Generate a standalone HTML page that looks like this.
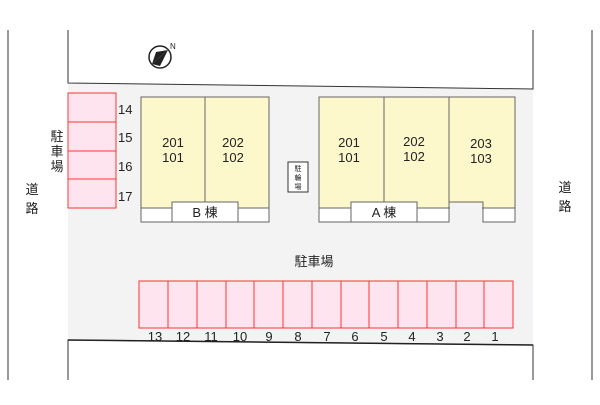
<!DOCTYPE html>
<html><head><meta charset="utf-8"><style>
body{margin:0;background:#fff}
text{font-family:"Liberation Sans","Noto Sans CJK JP",sans-serif;fill:#222}
</style></head><body>
<svg width="600" height="400" viewBox="0 0 600 400" xmlns="http://www.w3.org/2000/svg">
<rect width="600" height="400" fill="#fff"/>
<line x1="8" y1="30" x2="8" y2="380" stroke="#333" stroke-width="1"/>
<line x1="592" y1="30" x2="592" y2="380" stroke="#333" stroke-width="1"/>
<polygon points="68,83 533,89 533,345 68,340" fill="#f3f3f3"/>
<polyline points="68,30 68,83 533,89 533,30" fill="none" stroke="#333"/>
<polyline points="68,380 68,340 533,345 533,380" fill="none" stroke="#333"/>
<line x1="68" y1="340" x2="533" y2="345" stroke="#222" stroke-width="1.5"/>
<!-- compass -->
<circle cx="160" cy="57" r="11" fill="#fff" stroke="#222" stroke-width="1.5"/>
<polygon points="152,64 168,50 160,66" fill="#222"/>
<polygon points="152,64 168,50 156,52" fill="#222"/>
<text x="170" y="49" font-size="8">N</text>
<!-- left parking -->
<g fill="#fde4ee" stroke="#f33" stroke-width="1">
<rect x="68" y="93" width="48" height="29"/><rect x="68" y="122" width="48" height="29"/>
<rect x="68" y="151" width="48" height="28"/><rect x="68" y="179" width="48" height="29"/>
</g>
<g font-size="13"><text x="118" y="114">14</text><text x="118" y="142">15</text><text x="118" y="171">16</text><text x="118" y="201">17</text></g>
<g font-size="13" text-anchor="middle">
<text x="57" y="141">駐</text><text x="57" y="156">車</text><text x="57" y="171">場</text>
<text x="32" y="194">道</text><text x="32" y="213">路</text>
<text x="565" y="192">道</text><text x="565" y="211">路</text>
<text x="314" y="266">駐車場</text>
</g>
<!-- B building -->
<g stroke="#666" stroke-width="1">
<rect x="141" y="97" width="128" height="111" fill="#fdf8cc"/>
<line x1="205" y1="97" x2="205" y2="208"/>
<rect x="141" y="208" width="31" height="14" fill="#fff"/>
<rect x="238" y="208" width="31" height="14" fill="#fff"/>
<rect x="172" y="202" width="66" height="20" fill="#fff"/>
</g>
<text x="205" y="217" font-size="13" text-anchor="middle">B 棟</text>
<g font-size="13" text-anchor="middle">
<text x="173" y="147">201</text><text x="173" y="162">101</text>
<text x="233" y="147">202</text><text x="233" y="162">102</text>
</g>
<!-- bicycle -->
<rect x="288" y="162" width="20" height="30" fill="#fff" stroke="#333"/>
<g font-size="7" text-anchor="middle"><text x="298" y="171">駐</text><text x="298" y="180">輪</text><text x="298" y="189">場</text></g>
<!-- A building -->
<g stroke="#666" stroke-width="1">
<rect x="319" y="97" width="196" height="111" fill="#fdf8cc"/>
<line x1="384" y1="97" x2="384" y2="208"/>
<line x1="449" y1="97" x2="449" y2="222"/>
<rect x="319" y="208" width="32" height="14" fill="#fff"/>
<rect x="417" y="208" width="32" height="14" fill="#fff"/>
<rect x="351" y="202" width="66" height="20" fill="#fff"/>
<rect x="483" y="208" width="32" height="14" fill="#fff"/>
</g>
<rect x="450" y="203" width="32" height="19" fill="#f3f3f3"/>
<polyline points="449,202 483,202 483,208" fill="none" stroke="#666"/>
<text x="384" y="217" font-size="13" text-anchor="middle">A 棟</text>
<g font-size="13" text-anchor="middle">
<text x="349" y="147">201</text><text x="349" y="162">101</text>
<text x="414" y="146">202</text><text x="414" y="161">102</text>
<text x="481" y="148">203</text><text x="481" y="163">103</text>
</g>
<!-- bottom parking -->
<g fill="#fde4ee" stroke="#f33" stroke-width="1">
<rect x="139" y="281" width="374" height="47"/>
</g>
<g stroke="#f33">
<line x1="168" y1="281" x2="168" y2="328"/><line x1="197" y1="281" x2="197" y2="328"/>
<line x1="226" y1="281" x2="226" y2="328"/><line x1="254" y1="281" x2="254" y2="328"/>
<line x1="283" y1="281" x2="283" y2="328"/><line x1="312" y1="281" x2="312" y2="328"/>
<line x1="341" y1="281" x2="341" y2="328"/><line x1="369" y1="281" x2="369" y2="328"/>
<line x1="398" y1="281" x2="398" y2="328"/><line x1="427" y1="281" x2="427" y2="328"/>
<line x1="456" y1="281" x2="456" y2="328"/><line x1="484" y1="281" x2="484" y2="328"/>
</g>
<g font-size="13" text-anchor="middle">
<text x="155" y="341">13</text><text x="183" y="341">12</text><text x="211" y="341">11</text>
<text x="240" y="341">10</text><text x="269" y="341">9</text><text x="298" y="341">8</text>
<text x="327" y="341">7</text><text x="355" y="341">6</text><text x="384" y="341">5</text>
<text x="412" y="341">4</text><text x="440" y="341">3</text><text x="467" y="341">2</text>
<text x="495" y="341">1</text>
</g>
</svg>
</body></html>
